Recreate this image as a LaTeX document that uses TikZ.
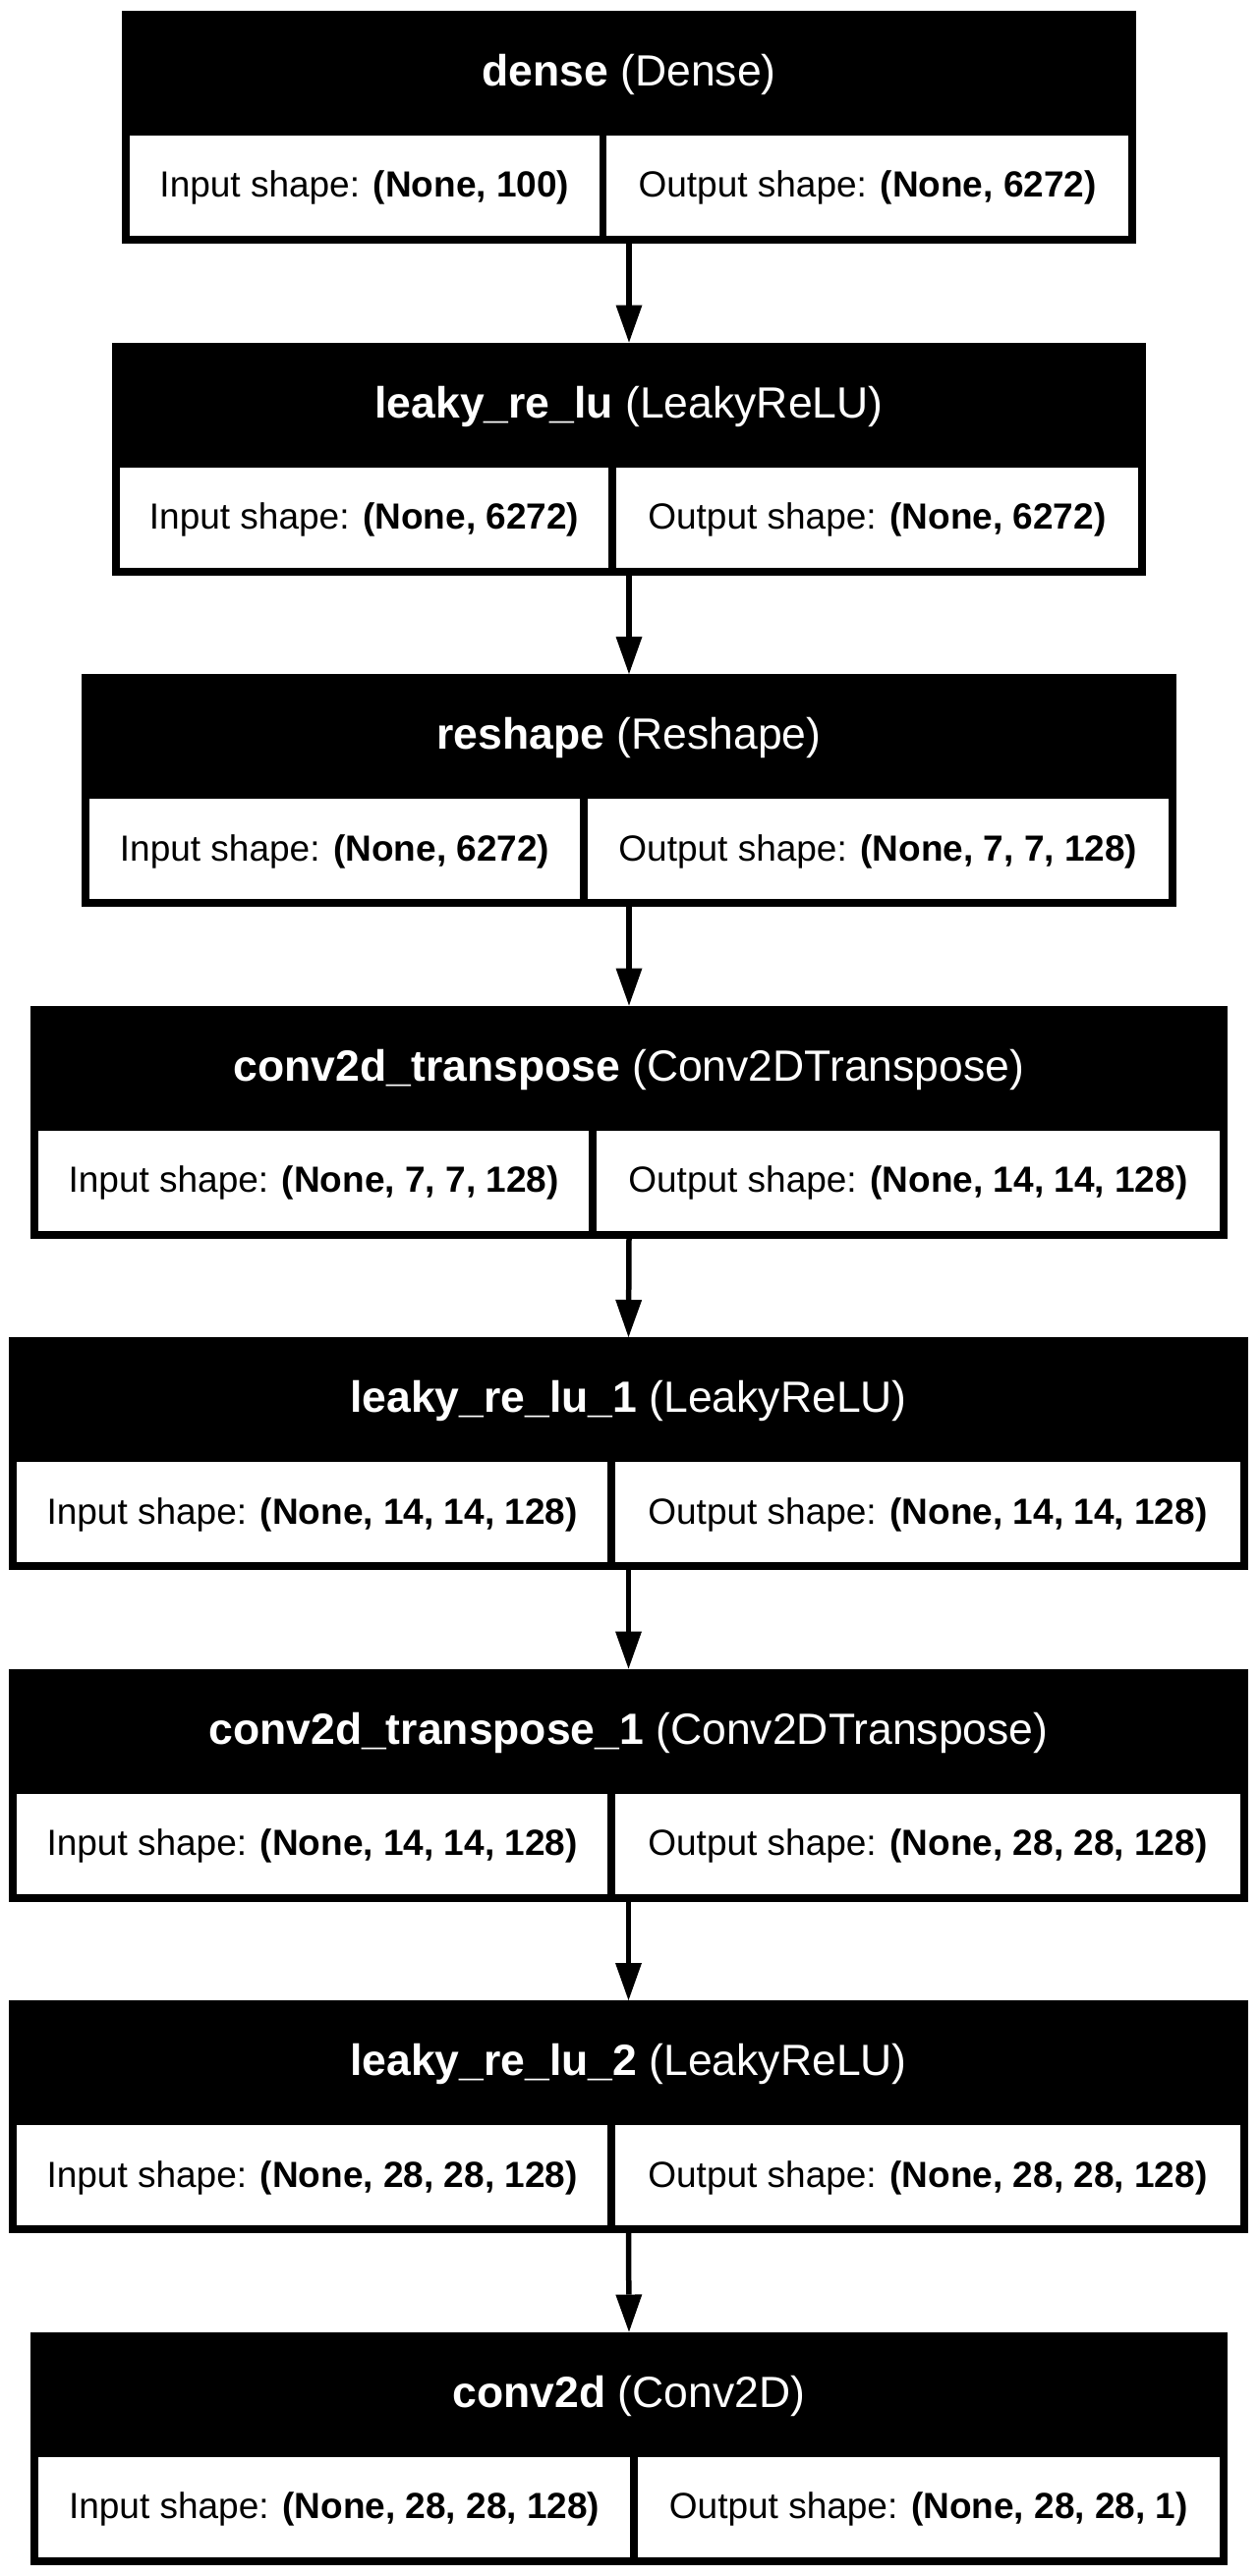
\documentclass[tikz,border=0pt]{standalone}
\usepackage{fontspec}
\setmainfont{Liberation Sans}
\usetikzlibrary{arrows.meta}
\tikzset{
  layerbox/.style={fill=black, inner sep=0pt, outer sep=0pt, minimum height=237pt, anchor=north},
  cellbox/.style={fill=white, inner sep=0pt, outer sep=0pt, minimum height=102pt, anchor=north west},
  headtext/.style={text=white, anchor=base, inner sep=0pt, font=\fontsize{44.5pt}{51pt}\selectfont},
  celltext/.style={text=black, anchor=base, inner sep=0pt, font=\fontsize{37pt}{44pt}\selectfont},
  flow/.style={line width=5.5pt, -{Triangle[width=27pt,length=38pt,line width=0pt]}},
}
% #1 name, #2 top, #3 left, #4 right, #5 divider, #6 header, #7 input, #8 output
\newcommand\mklayer[8]{%
  \pgfmathsetmacro\mkLw{#4-#3}%
  \pgfmathsetmacro\mkCa{#5-3.75-(#3+8)}%
  \pgfmathsetmacro\mkCb{(#4-8)-(#5+3.75)}%
  \node[layerbox, minimum width=\mkLw pt] (#1) at ({(#3+#4)/2}, #2) {};
  \node[cellbox, minimum width=\mkCa pt] (#1-in) at (#3+8, #2+127) {};
  \node[cellbox, minimum width=\mkCb pt] (#1-out) at (#5+3.75, #2+127) {};
  \node[headtext] (#1-head) at ({(#3+#4)/2}, #2+76.5) {#6};
  \node[celltext] (#1-intext) at ({(#3+8+#5-3.75)/2}, #2+190) {Input shape: \textbf{#7}};
  \node[celltext] (#1-outtext) at ({(#5+3.75+#4-8)/2}, #2+190) {Output shape: \textbf{#8}};
}
\begin{document}
\begin{tikzpicture}[x=1pt,y=-1pt]
\fill[white] (0,0) rectangle (1280,2622);
\useasboundingbox (0,0) rectangle (1280,2622);

\mklayer{l1}{11}{124}{1156}{613.5}{\textbf{dense} (Dense)}{(None, 100)}{(None, 6272)}
\mklayer{l2}{348.5}{114}{1166}{623}{\textbf{leaky\_re\_lu} (LeakyReLU)}{(None, 6272)}{(None, 6272)}
\mklayer{l3}{686}{83}{1197}{594}{\textbf{reshape} (Reshape)}{(None, 6272)}{(None, 7, 7, 128)}
\mklayer{l4}{1023.5}{31}{1249}{603}{\textbf{conv2d\_transpose} (Conv2DTranspose)}{(None, 7, 7, 128)}{(None, 14, 14, 128)}
\mklayer{l5}{1361}{9}{1270}{622}{\textbf{leaky\_re\_lu\_1} (LeakyReLU)}{(None, 14, 14, 128)}{(None, 14, 14, 128)}
\mklayer{l6}{1698.5}{9}{1270}{622}{\textbf{conv2d\_transpose\_1} (Conv2DTranspose)}{(None, 14, 14, 128)}{(None, 28, 28, 128)}
\mklayer{l7}{2036}{9}{1270}{622}{\textbf{leaky\_re\_lu\_2} (LeakyReLU)}{(None, 28, 28, 128)}{(None, 28, 28, 128)}
\mklayer{l8}{2373.5}{31}{1249}{645}{\textbf{conv2d} (Conv2D)}{(None, 28, 28, 128)}{(None, 28, 28, 1)}

\draw[flow] (l1.south) -- (l2.north);
\draw[flow] (l2.south) -- (l3.north);
\draw[flow] (l3.south) -- (l4.north);
\draw[flow] (l4.south) -- (l5.north);
\draw[flow] (l5.south) -- (l6.north);
\draw[flow] (l6.south) -- (l7.north);
\draw[flow] (l7.south) -- (l8.north);
\end{tikzpicture}
\end{document}
